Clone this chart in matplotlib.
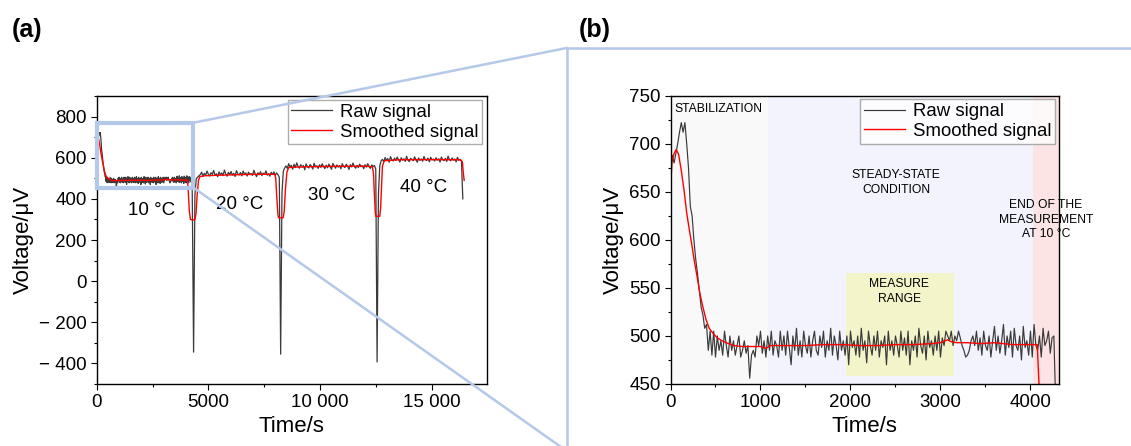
import numpy as np
import matplotlib.pyplot as plt
from matplotlib.lines import Line2D
from matplotlib.patches import Rectangle
from matplotlib.ticker import MultipleLocator, FuncFormatter

plt.rcParams['font.family'] = ['Liberation Sans', 'DejaVu Sans']

# ---- data -------------------------------------------------------------
# first run at 10 degC, 20 s sampling (also the zoomed panel)
time_10c = np.arange(0, 4300, 20)
raw_10c = [
    670, 688, 680, 690, 700, 712, 722, 712, 722, 700,
    675, 635, 625, 600, 580, 565, 548, 530, 522, 508,
    512, 485, 505, 480,
    505, 478, 500, 485, 495, 480, 505, 490, 478, 500,
    485, 495, 480, 490, 500, 478, 485, 495, 482, 490,
    456, 480, 485, 478, 500, 490, 505, 482, 495, 478,
    500, 485, 505, 480, 495, 490, 478, 505, 485, 500,
    480, 505, 488, 470, 500, 485, 508, 480, 495, 478,
    505, 490, 482, 500, 478, 495, 505, 485, 480, 500,
    488, 505, 478, 495, 485, 508, 480, 500, 490, 475,
    505, 485, 495, 480, 500, 470, 505, 488, 495, 480,
    500, 478, 508, 485, 495, 472, 505, 490, 480, 500,
    485, 505, 478, 495, 488, 500, 470, 505, 485, 495,
    480, 500, 490, 478, 505, 485, 498, 480, 505, 470,
    495, 485, 500, 478, 508, 490, 482, 500, 475, 505,
    488, 495, 480, 500, 485, 505, 478, 498, 490, 505,
    500, 495, 505, 490, 500, 495, 505, 498, 490, 485,
    478, 480, 485, 495, 500, 490, 505, 485, 498, 480,
    505, 490, 485, 500, 478, 495, 510, 485, 500, 482,
    495, 512, 480, 500, 488, 505, 478, 508, 490, 485,
    500, 475, 510, 488, 495, 480, 505, 478, 512, 490,
    485, 500, 478, 508, 490, 495, 505, 482, 498, 500,
    430,
]

# later runs, 60 s sampling
time_20c = np.arange(4340, 8241, 60)
raw_20c = [
    -345, 420, 498, 505,
    512, 518, 530, 509, 524, 515, 535, 520, 511, 527,
    519, 538, 514, 522, 508, 531, 517, 526, 513, 540,
    521, 510, 529, 518, 533, 515, 524, 509, 537, 522,
    516, 528, 512, 535, 520, 526, 511, 530, 518, 523,
    514, 539, 521, 508, 527, 517, 532, 513, 525, 519,
    536, 515, 522, 510, 529,
    518, 531, 514, 526, 517, 505, -355,
]

time_30c = np.arange(8300, 12561, 60)
raw_30c = [
    430, 535, 550,
    560, 548, 571, 555, 563, 544, 568, 552, 575, 558,
    549, 566, 554, 562, 541, 570, 557, 550, 567, 559,
    545, 573, 556, 561, 548, 566, 553, 570, 558, 547,
    564, 551, 569, 556, 544, 572, 560, 549, 565, 554,
    562, 546, 571, 557, 552, 568, 559, 543, 566, 555,
    574, 558, 549, 563, 552, 569, 556, 561, 547, 566,
    554, 571, 558, 548, 565, 557, 562,
    545, -393,
]

time_40c = np.arange(12620, 16401, 60)
raw_40c = [
    420, 560, 585,
    592, 580, 601, 587, 596, 578, 605, 590, 584, 598,
    586, 603, 591, 579, 600, 588, 595, 582, 607, 589,
    581, 597, 592, 585, 604, 590, 578, 599, 587, 594,
    583, 606, 591, 586, 598, 580, 602, 589, 593, 584,
    600, 588, 595, 579, 603, 590, 586, 597, 582, 608,
    591, 585, 599, 588, 594, 580, 602, 587, 592, 583,
    400,
]

# smoothed signal
smooth_t_10c = [0, 17, 40, 64, 90, 120, 150, 180, 210, 235, 265, 295,
                325, 355, 395, 430, 470, 520, 592, 700, 800, 950, 1000,
                1060, 1110, 1300, 1500, 1700, 1900, 2100, 2300, 2500,
                2700, 2900, 3000, 3078, 3120, 3180, 3300, 3450, 3600,
                3800, 4000, 4075, 4100]
smooth_v_10c = [655, 681, 690, 694, 689, 672, 652, 628, 610, 596, 578, 562,
                545, 532, 517, 508, 503, 498, 494, 490, 489, 489, 489,
                487, 490, 490, 490, 491, 491, 490, 490, 491,
                491, 492, 493, 496, 494, 493, 493, 492, 493,
                491, 491, 491, 440]
smooth_t_rest = [4150, 4200, 4300, 4400, 4450, 4500, 4560, 4620, 4800, 5500,
                 6500, 7500, 7980, 8020, 8060, 8120, 8150, 8350, 8400, 8450,
                 8520, 8600, 9000, 10500, 12000, 12350, 12400, 12440, 12480,
                 12510, 12680, 12720, 12760, 12800, 12880, 13500, 15000,
                 16300, 16380, 16420, 16460]
smooth_v_rest = [340, 300, 297, 300, 330, 420, 490, 508, 512, 515,
                 518, 520, 519, 500, 420, 320, 308, 308, 340, 440,
                 530, 552, 555, 558, 559, 556, 520, 420, 330,
                 315, 315, 360, 460, 560, 585, 590, 591,
                 590, 580, 530, 490]

temp_labels = ['10 °C', '20 °C', '30 °C', '40 °C']
temp_pos = [(2460, 345), (6390, 373), (10500, 418), (14630, 454)]

raw_color = '#3a3a3a'
red = '#ff0000'
zoom_color = '#b4c8e8'


def minus_fmt(v, pos):
    if v < 0:
        return '\u2212 %d' % abs(v)
    return '%d' % v


def thousands_fmt(v, pos):
    v = int(v)
    if v >= 10000:
        return '%d %03d' % (v // 1000, v % 1000)
    return '%d' % v


W, H = 1131, 446
fig = plt.figure(figsize=(W / 100, H / 100), dpi=100)

# ---- panel (a): full measurement ---------------------------------------
ax_a = fig.add_axes([96.7 / W, 1 - 384 / H, 390 / W, 288 / H])
t_all = np.concatenate([time_10c, time_20c, time_30c, time_40c])
raw_all = np.concatenate([raw_10c, raw_20c, raw_30c, raw_40c])
ax_a.plot(t_all, raw_all, color=raw_color, lw=0.9, label='Raw signal')
ax_a.plot(smooth_t_10c + smooth_t_rest, smooth_v_10c + smooth_v_rest,
          color=red, lw=1.0, label='Smoothed signal')
ax_a.set_xlim(0, 17470)
ax_a.set_ylim(-500, 900)
ax_a.xaxis.set_major_locator(MultipleLocator(5000))
ax_a.xaxis.set_minor_locator(MultipleLocator(2500))
ax_a.yaxis.set_major_locator(MultipleLocator(200))
ax_a.yaxis.set_minor_locator(MultipleLocator(100))
ax_a.yaxis.set_major_formatter(FuncFormatter(minus_fmt))
ax_a.xaxis.set_major_formatter(FuncFormatter(thousands_fmt))
for lab, (x, y) in zip(temp_labels, temp_pos):
    ax_a.text(x, y, lab, fontsize=13.5, ha='center', va='center')
ax_a.set_xlabel('Time/s', fontsize=16, labelpad=4)
ax_a.set_ylabel('Voltage/μV', fontsize=16, labelpad=4)
ax_a.legend(loc='upper right', bbox_to_anchor=(0.988, 0.986), fontsize=13.4,
            frameon=True, fancybox=False, edgecolor='#999999',
            handlelength=2.2, handletextpad=0.4, labelspacing=0.15,
            borderpad=0.2, borderaxespad=0)

# zoom box over the first run
ax_a.add_patch(Rectangle((0, 455), 4330, 315, fill=False, ec=zoom_color,
                         lw=3.0, clip_on=False, zorder=5))

# ---- panel (b): first run in detail ------------------------------------
ax_b = fig.add_axes([670.5 / W, 1 - 384 / H, 388.5 / W, 288.3 / H])
ax_b.axvspan(0, 1082, color='#f9f9f9', lw=0, zorder=0)
ax_b.axvspan(1082, 4023, color='#f2f3fd', lw=0, zorder=0)
ax_b.axvspan(4023, 4320, color='#fde4e4', lw=0, zorder=0)
ax_b.add_patch(Rectangle((1952, 458), 1197, 108, color='#f3f4c9', lw=0,
                         zorder=0.5))
ax_b.plot(time_10c, raw_10c, color=raw_color, lw=0.85, label='Raw signal')
ax_b.plot(smooth_t_10c, smooth_v_10c, color=red, lw=1.0,
          label='Smoothed signal')
ax_b.set_xlim(0, 4317)
ax_b.set_ylim(450, 750)
ax_b.xaxis.set_major_locator(MultipleLocator(1000))
ax_b.xaxis.set_minor_locator(MultipleLocator(500))
ax_b.yaxis.set_major_locator(MultipleLocator(50))
ax_b.yaxis.set_minor_locator(MultipleLocator(25))
ax_b.text(48, 736, 'STABILIZATION', fontsize=8.7, ha='left', va='center')
ax_b.text(2509, 660, 'STEADY-STATE\nCONDITION', fontsize=8.7, ha='center',
          va='center', linespacing=1.3)
ax_b.text(2541, 546, 'MEASURE\nRANGE', fontsize=8.7, ha='center',
          va='center', linespacing=1.3)
ax_b.text(4173, 621, 'END OF THE\nMEASUREMENT\nAT 10 °C', fontsize=8.7,
          ha='center', va='center', linespacing=1.3, clip_on=False)
ax_b.set_xlabel('Time/s', fontsize=16, labelpad=4)
ax_b.set_ylabel('Voltage/μV', fontsize=16, labelpad=4)
ax_b.legend(loc='upper right', bbox_to_anchor=(0.989, 0.9875), fontsize=13.4,
            frameon=True, fancybox=False, edgecolor='#999999',
            handlelength=2.2, handletextpad=0.4, labelspacing=0.15,
            borderpad=0.2, borderaxespad=0)

for ax in (ax_a, ax_b):
    ax.tick_params(which='major', direction='out', length=4, width=0.8,
                   labelsize=13.5, pad=3)
    ax.tick_params(which='minor', direction='out', length=2.5, width=0.8)
    for s in ax.spines.values():
        s.set_linewidth(1.0)

# ---- connector lines between the panels --------------------------------
to_fig = fig.transFigure.inverted()
tr = to_fig.transform(ax_a.transData.transform((4330, 770)))
br = to_fig.transform(ax_a.transData.transform((4330, 455)))
cx = 566.7 / W
ctop = 1 - 48 / H
cbot = 1 - 451 / H
for xs, ys in [([tr[0], cx], [tr[1], ctop]),
               ([br[0], cx], [br[1], cbot]),
               ([cx, 1.0], [ctop, ctop]),
               ([cx, cx], [ctop, 0.0])]:
    fig.add_artist(Line2D(xs, ys, transform=fig.transFigure,
                          color=zoom_color, lw=1.8))

fig.text(12 / W, 1 - 30 / H, '(a)', fontsize=18, fontweight='bold',
         ha='left', va='center')
fig.text(579 / W, 1 - 30 / H, '(b)', fontsize=18, fontweight='bold',
         ha='left', va='center')

fig.savefig('out.png', dpi=100)
